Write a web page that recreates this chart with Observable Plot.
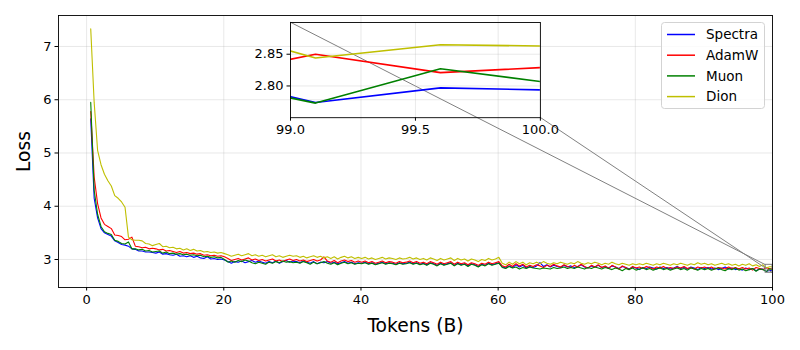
<!DOCTYPE html>
<html><head><meta charset="utf-8">
<script src="https://cdn.jsdelivr.net/npm/d3@7"></script>
<script src="https://cdn.jsdelivr.net/npm/@observablehq/plot@0.6"></script>
<style>
body{margin:0;background:#fff;font-family:"DejaVu Sans",sans-serif;}
#wrap{position:relative;width:800px;height:350px;overflow:hidden;}
#wrap svg{position:absolute;overflow:visible;}
#wrap svg [aria-label="x-axis label"] text,#wrap svg [aria-label="y-axis label"] text{font-size:18.7px;}
</style></head><body><div id="wrap"></div>
<script>
const names=["Spectra","AdamW","Muon","Dion"];
const colors=["#0000ff","#ff0000","#008000","#bfbf00"];
const xTicks=[0,20,40,60,80,100];
const yTicks=[3,4,5,6,7];
const insetXTicks=[99.0,99.5,100.0];
const insetYTicks=[2.80,2.85];

const tokens=[
0.6,1.1,1.6,2.1,2.6,3.1,3.6,4.1,4.6,5.1,
5.6,6.1,6.6,7.1,7.6,8.1,8.6,9.1,9.6,10.1,
10.6,11.1,11.6,12.1,12.6,13.1,13.6,14.1,14.6,15.1,
15.6,16.1,16.6,17.1,17.6,18.1,18.6,19.1,19.6,20.1,
20.6,21.1,21.6,22.1,22.6,23.1,23.6,24.1,24.6,25.1,
25.6,26.1,26.6,27.1,27.6,28.1,28.6,29.1,29.6,30.1,
30.6,31.1,31.6,32.1,32.6,33.1,33.6,34.1,34.6,35.1,
35.6,36.1,36.6,37.1,37.6,38.1,38.6,39.1,39.6,40.1,
40.6,41.1,41.6,42.1,42.6,43.1,43.6,44.1,44.6,45.1,
45.6,46.1,46.6,47.1,47.6,48.1,48.6,49.1,49.6,50.1,
50.6,51.1,51.6,52.1,52.6,53.1,53.6,54.1,54.6,55.1,
55.6,56.1,56.6,57.1,57.6,58.1,58.6,59.1,59.6,60.1,
60.6,61.1,61.6,62.1,62.6,63.1,63.6,64.1,64.6,65.1,
65.6,66.1,66.6,67.1,67.6,68.1,68.6,69.1,69.6,70.1,
70.6,71.1,71.6,72.1,72.6,73.1,73.6,74.1,74.6,75.1,
75.6,76.1,76.6,77.1,77.6,78.1,78.6,79.1,79.6,80.1,
80.6,81.1,81.6,82.1,82.6,83.1,83.6,84.1,84.6,85.1,
85.6,86.1,86.6,87.1,87.6,88.1,88.6,89.1,89.6,90.1,
90.6,91.1,91.6,92.1,92.6,93.1,93.6,94.1,94.6,95.1,
95.6,96.1,96.6,97.1,97.6,98.1,98.6,99.1,99.6,100.1];

const spectra=[
5.64,4.15,3.78,3.58,3.50,3.47,3.44,3.35,3.32,3.28,
3.27,3.25,3.20,3.19,3.16,3.16,3.14,3.14,3.13,3.12,
3.14,3.10,3.11,3.09,3.08,3.10,3.06,3.07,3.05,3.07,
3.04,3.06,3.03,3.02,3.05,3.01,3.02,3.00,3.01,2.99,
2.96,2.93,2.96,2.95,2.97,2.94,2.96,2.98,2.95,2.97,
2.95,2.93,2.96,2.94,2.97,2.93,2.96,2.98,2.95,2.97,
2.96,2.94,2.97,2.95,2.93,2.96,2.92,2.95,2.94,2.96,
2.93,2.95,2.92,2.94,2.96,2.93,2.95,2.92,2.94,2.93,
2.95,2.92,2.94,2.91,2.93,2.95,2.92,2.94,2.93,2.91,
2.94,2.92,2.93,2.95,2.92,2.94,2.91,2.93,2.90,2.94,
2.92,2.89,2.93,2.90,2.92,2.94,2.89,2.93,2.90,2.92,
2.88,2.92,2.90,2.87,2.91,2.89,2.93,2.90,2.92,2.94,
2.86,2.84,2.88,2.85,2.90,2.86,2.89,2.84,2.87,2.85,
2.88,2.94,2.87,2.90,2.86,2.89,2.87,2.85,2.89,2.86,
2.88,2.85,2.87,2.90,2.86,2.84,2.88,2.86,2.89,2.85,
2.87,2.84,2.88,2.86,2.83,2.87,2.85,2.82,2.86,2.84,
2.81,2.85,2.83,2.86,2.84,2.82,2.86,2.83,2.85,2.82,
2.84,2.87,2.83,2.85,2.82,2.86,2.84,2.81,2.85,2.83,
2.85,2.82,2.84,2.81,2.83,2.86,2.82,2.84,2.81,2.83,
2.80,2.84,2.81,2.83,2.79,2.82,2.819,2.774,2.797,2.793];

const adamw=[
5.78,4.55,4.05,3.78,3.66,3.62,3.58,3.46,3.45,3.43,
3.37,3.38,3.42,3.25,3.24,3.22,3.23,3.20,3.21,3.20,
3.18,3.19,3.16,3.17,3.15,3.13,3.15,3.12,3.13,3.11,
3.12,3.10,3.11,3.08,3.09,3.07,3.08,3.06,3.07,3.05,
3.02,2.98,3.00,3.02,2.99,3.01,3.03,2.99,3.01,2.98,
3.00,2.97,2.99,3.01,2.97,2.99,2.96,2.99,3.01,2.98,
3.00,2.97,2.99,2.96,2.98,3.00,2.97,2.99,3.05,2.97,
2.95,2.98,2.94,2.97,2.99,2.96,2.98,2.95,2.97,2.95,
2.97,2.94,2.96,2.93,2.95,2.97,2.94,2.96,2.95,2.93,
2.96,2.94,2.95,2.97,2.94,2.96,2.93,2.95,2.92,2.96,
2.94,2.91,2.95,2.92,2.94,2.96,2.91,2.95,2.92,2.94,
2.90,2.94,2.92,2.89,2.93,2.91,2.95,2.92,2.94,2.96,
2.88,2.86,2.91,2.87,2.92,2.88,2.91,2.86,2.89,2.87,
2.90,2.88,2.85,2.89,2.87,2.91,2.88,2.86,2.90,2.87,
2.85,2.89,2.86,2.91,2.87,2.84,2.89,2.86,2.90,2.85,
2.88,2.83,2.89,2.86,2.82,2.88,2.85,2.81,2.87,2.84,
2.86,2.83,2.87,2.85,2.82,2.86,2.84,2.87,2.83,2.85,
2.83,2.86,2.84,2.87,2.83,2.85,2.82,2.86,2.84,2.86,
2.83,2.86,2.82,2.85,2.84,2.82,2.86,2.83,2.85,2.82,
2.85,2.82,2.84,2.80,2.85,2.83,2.81,2.850,2.821,2.831];

const muon=[
5.95,4.30,3.85,3.62,3.52,3.49,3.47,3.36,3.34,3.30,
3.29,3.33,3.20,3.20,3.18,3.19,3.16,3.17,3.14,3.15,
3.16,3.12,3.14,3.11,3.12,3.10,3.11,3.09,3.10,3.08,
3.09,3.07,3.08,3.05,3.06,3.04,3.05,3.03,3.04,3.00,
2.95,2.97,2.95,2.98,2.96,2.99,2.97,2.94,2.92,2.95,
2.93,2.91,2.95,2.93,2.96,2.94,2.97,2.95,2.96,2.94,
2.95,2.93,2.96,2.94,2.91,2.95,2.92,2.94,2.96,2.93,
2.91,2.94,2.90,2.93,2.95,2.92,2.94,2.91,2.93,2.92,
2.94,2.91,2.93,2.90,2.92,2.94,2.91,2.93,2.92,2.90,
2.93,2.91,2.92,2.94,2.91,2.93,2.90,2.92,2.89,2.93,
2.91,2.88,2.92,2.89,2.91,2.93,2.88,2.92,2.89,2.91,
2.87,2.91,2.89,2.86,2.90,2.88,2.92,2.89,2.91,2.93,
2.85,2.83,2.87,2.84,2.86,2.82,2.85,2.83,2.86,2.84,
2.83,2.82,2.84,2.83,2.82,2.85,2.83,2.84,2.86,2.83,
2.85,2.83,2.86,2.84,2.82,2.85,2.83,2.86,2.84,2.82,
2.85,2.83,2.81,2.84,2.82,2.79,2.83,2.81,2.84,2.80,
2.82,2.84,2.81,2.83,2.80,2.82,2.84,2.81,2.83,2.80,
2.82,2.84,2.81,2.83,2.80,2.84,2.82,2.80,2.83,2.81,
2.83,2.80,2.82,2.84,2.81,2.79,2.83,2.81,2.84,2.80,
2.82,2.79,2.81,2.83,2.78,2.82,2.813,2.773,2.827,2.802];

const dion=[
7.33,5.95,5.05,4.78,4.60,4.48,4.38,4.20,4.15,4.08,
3.98,3.42,3.37,3.36,3.36,3.35,3.30,3.29,3.26,3.28,
3.30,3.24,3.25,3.22,3.23,3.20,3.21,3.18,3.20,3.17,
3.19,3.16,3.17,3.14,3.15,3.13,3.14,3.12,3.13,3.11,
3.09,3.06,3.08,3.10,3.07,3.09,3.11,3.07,3.09,3.06,
3.08,3.05,3.07,3.09,3.05,3.07,3.04,3.06,3.08,3.06,
3.07,3.04,3.06,3.03,3.05,3.07,3.04,3.06,3.03,3.05,
3.02,3.05,3.01,3.04,3.06,3.03,3.05,3.02,3.04,3.02,
3.04,3.01,3.03,3.00,3.02,3.04,3.01,3.03,3.02,3.00,
3.03,3.01,3.02,3.04,3.01,3.03,3.00,3.02,2.99,3.03,
3.01,2.98,3.02,2.99,3.01,3.03,2.98,3.02,2.99,3.01,
2.97,3.01,2.99,2.96,3.00,2.98,3.02,2.99,3.01,3.04,
2.93,2.90,2.95,2.91,2.96,2.92,2.95,2.90,2.94,2.92,
2.95,2.92,2.96,2.93,2.91,2.94,2.92,2.95,2.93,2.91,
2.94,2.92,2.96,2.93,2.91,2.94,2.92,2.95,2.93,2.90,
2.93,2.91,2.95,2.92,2.90,2.93,2.91,2.89,2.92,2.90,
2.92,2.90,2.93,2.91,2.89,2.92,2.90,2.93,2.91,2.89,
2.92,2.90,2.93,2.91,2.89,2.92,2.90,2.94,2.91,2.93,
2.90,2.92,2.89,2.91,2.93,2.90,2.92,2.89,2.91,2.88,
2.91,2.89,2.92,2.88,2.90,2.87,2.899,2.844,2.865,2.8625];

const seriesValues=[spectra,adamw,muon,dion];
const rows=[];
names.forEach((n,k)=>tokens.forEach((t,i)=>rows.push({t,loss:seriesValues[k][i],series:n})));

const mainXDomain=[-4.1,100];
const mainYDomain=[2.474,7.582];
const zoomX=[99,100];
const zoomY=[2.75,2.90];
const insetBounds=[0.325,0.625,0.35,0.35]; // axes fraction: left,bottom,width,height

const W=800,H=350,mL=58,mR=28,mT=15,mB=63;
const font="DejaVu Sans";
const gridStyle={stroke:"#b0b0b0",strokeOpacity:0.35,strokeWidth:0.8};

function mainPlot(extra){
  return Plot.plot({
    width:W,height:H,marginLeft:mL,marginRight:mR,marginTop:mT,marginBottom:mB,
    style:{fontFamily:font,fontSize:"13px",color:"black",background:"transparent"},
    x:{domain:mainXDomain},
    y:{domain:mainYDomain},
    color:{domain:names,range:colors},
    marks:[
      Plot.gridX(xTicks,gridStyle),
      Plot.gridY(yTicks,gridStyle),
      Plot.line(rows,{x:"t",y:"loss",z:"series",stroke:"series",strokeWidth:1.1,clip:true}),
      ...extra,
      Plot.frame({stroke:"black",strokeWidth:0.9}),
      Plot.axisX(xTicks,{tickSize:3.5,tickPadding:3.5,tickFormat:d3.format("d"),label:"Tokens (B)",labelAnchor:"center",labelArrow:"none",labelOffset:44}),
      Plot.axisY(yTicks,{tickSize:3.5,tickPadding:3.5,tickFormat:d3.format("d"),label:"Loss",labelAnchor:"center",labelArrow:"none",labelOffset:42})
    ]
  });
}

const p0=mainPlot([]);
const sxo=p0.scale("x"), syo=p0.scale("y");
const sx=d3.scaleLinear(sxo.domain,sxo.range), sy=d3.scaleLinear(syo.domain,syo.range);
const fx0=mL,fx1=W-mR,fy0=mT,fy1=H-mB;
const ix0=fx0+insetBounds[0]*(fx1-fx0), ix1=ix0+insetBounds[2]*(fx1-fx0);
const iy1=fy1-insetBounds[1]*(fy1-fy0), iy0=iy1-insetBounds[3]*(fy1-fy0);

const zoomBox=[{x1:zoomX[0],x2:zoomX[1],y1:zoomY[0],y2:zoomY[1]}];
const connectors=[
  {x1:sx.invert(ix0),y1:sy.invert(iy0),x2:zoomX[0],y2:zoomY[1]},
  {x1:sx.invert(ix1),y1:sy.invert(iy1),x2:zoomX[1],y2:zoomY[0]}
];
const main=mainPlot([
  Plot.rect(zoomBox,{x1:"x1",x2:"x2",y1:"y1",y2:"y2",fill:"none",stroke:"#808080",strokeWidth:1}),
  Plot.link(connectors,{x1:"x1",y1:"y1",x2:"x2",y2:"y2",stroke:"#808080",strokeWidth:1})
]);
main.style.left="0px";main.style.top="0px";

const imL=45,imR=25,imT=4,imB=24;
const inset=Plot.plot({
  width:(ix1-ix0)+imL+imR,height:(iy1-iy0)+imT+imB,
  marginLeft:imL,marginRight:imR,marginTop:imT,marginBottom:imB,
  style:{fontFamily:font,fontSize:"13px",color:"black",background:"transparent"},
  x:{domain:zoomX},
  y:{domain:zoomY},
  color:{domain:names,range:colors},
  marks:[
    Plot.gridX(insetXTicks,gridStyle),
    Plot.gridY(insetYTicks,gridStyle),
    Plot.line(rows,{x:"t",y:"loss",z:"series",stroke:"series",strokeWidth:1.6,clip:true}),
    Plot.frame({stroke:"black",strokeWidth:0.9}),
    Plot.axisX(insetXTicks,{tickSize:3.5,tickPadding:3.5,tickFormat:d3.format(".1f"),label:null}),
    Plot.axisY(insetYTicks,{tickSize:3.5,tickPadding:3.5,tickFormat:d3.format(".2f"),label:null})
  ]
});
inset.style.left=(ix0-imL)+"px";inset.style.top=(iy0-imT)+"px";

const wrap=document.getElementById("wrap");
wrap.appendChild(main);
wrap.appendChild(inset);

// legend (SVG)
const lg=d3.create("svg").attr("width",106).attr("height",90)
  .style("left","660px").style("top","21px");
lg.append("rect").attr("x",1.5).attr("y",1.5).attr("width",103).attr("height",86)
  .attr("rx",3).attr("fill","white").attr("fill-opacity",0.8).attr("stroke","#d3d3d3").attr("stroke-width",1);
names.forEach((n,k)=>{
  const cy=13.5+k*20.7;
  lg.append("line").attr("x1",7).attr("x2",35).attr("y1",cy).attr("y2",cy)
    .attr("stroke",colors[k]).attr("stroke-width",1.5);
  lg.append("text").attr("x",46).attr("y",cy).attr("dy","0.36em")
    .attr("font-family",font).attr("font-size","13.5px").attr("fill","black").text(n);
});
wrap.appendChild(lg.node());
</script></body></html>
